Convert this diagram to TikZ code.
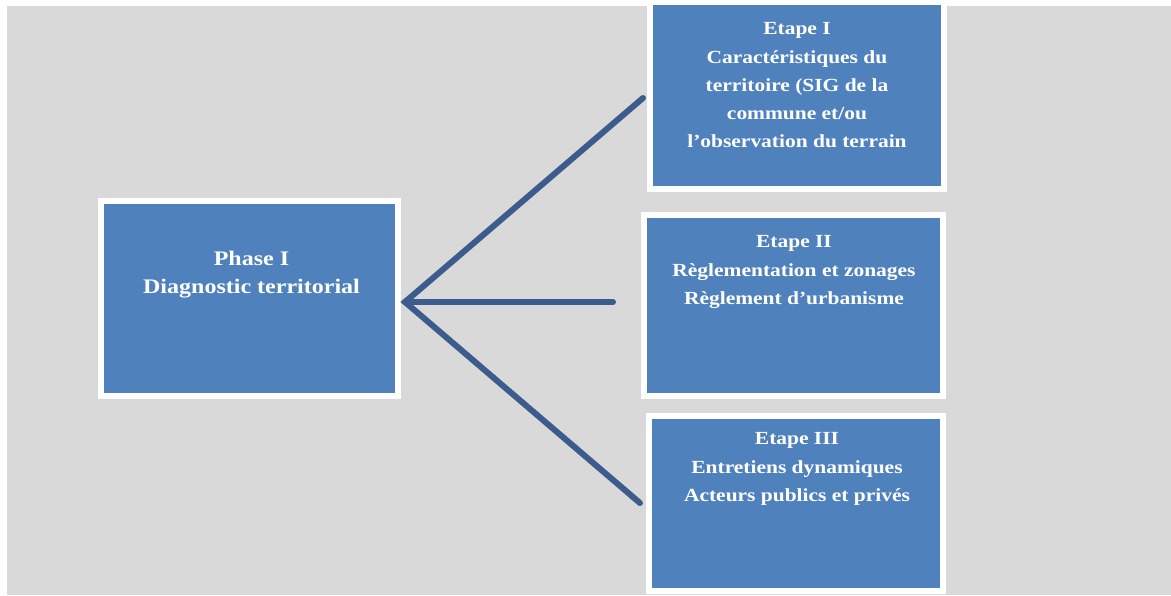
\documentclass[tikz,border=0pt]{standalone}
\usepackage{fontspec}
\setmainfont{Liberation Serif}[FakeStretch=1.16]
\definecolor{bgray}{HTML}{D9D9D9}
\definecolor{boxblue}{HTML}{4F81BD}
\definecolor{linkblue}{HTML}{3B5C8C}
\tikzset{
  box/.style={draw=white, line width=6pt, fill=boxblue, inner sep=0pt, rectangle},
  boxtext/.style={anchor=north, inner sep=0pt, align=center, text=white,
    font=\bfseries\fontsize{18.5}{28.2}\selectfont},
  phasetext/.style={boxtext, font=\bfseries\fontsize{20.7}{28}\selectfont},
  link/.style={draw=linkblue, line width=6pt, line cap=round}
}
\begin{document}
\begin{tikzpicture}[x=1pt,y=-1pt]
\useasboundingbox (0,0) rectangle (1171,595);
\fill[white] (0,0) rectangle (1171,595);
\fill[bgray] (7,6) rectangle (1171,595);
% boxes
\node[box, minimum width=296.5pt, minimum height=195pt] (phase) at (249.25,298.5) {};
\node[box, minimum width=293.5pt, minimum height=187pt] (e1) at (796.75,95.5) {};
\node[box, minimum width=299.5pt, minimum height=180.5pt] (e2) at (793.25,305.25) {};
\node[box, minimum width=294pt, minimum height=175pt] (e3) at (796,503) {};
% top white margin over box I border
\fill[white] (0,0) rectangle (1171,2);
% texts
\node[phasetext] (tphase) at (251.5,251) {Phase I\\Diagnostic territorial};
\node[boxtext] (t1) at (797,22.5) {Etape I\\Caractéristiques du\\territoire (SIG de la\\commune et/ou\\l’observation du terrain};
\node[boxtext] (t2) at (794,235.5) {Etape II\\Règlementation et zonages\\Règlement d’urbanisme};
\node[boxtext] (t3) at (797,432.5) {Etape III\\Entretiens dynamiques\\Acteurs publics et privés};
% connectors
\coordinate (j) at (405,302);
\coordinate (c1) at (643,98);
\coordinate (c2) at (613,302);
\coordinate (c3) at (640,503);
\draw[link] (c1) -- (j) -- (c3);
\draw[link] (j) -- (c2);
\end{tikzpicture}
\end{document}
